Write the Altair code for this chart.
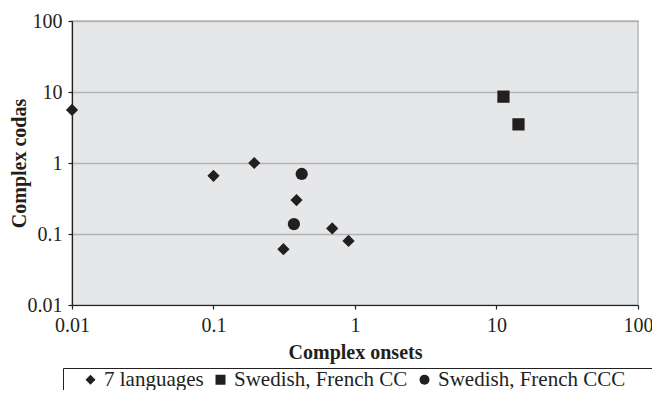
import altair as alt
import pandas as pd

# --- data ---
series_names = ["7 languages", "Swedish, French CC", "Swedish, French CCC"]

lang7_onsets = [0.01, 0.1, 0.194, 0.386, 0.312, 0.69, 0.90]
lang7_codas = [5.6, 0.66, 1.0, 0.30, 0.061, 0.12, 0.080]

cc_onsets = [11.2, 14.3]
cc_codas = [8.6, 3.5]

ccc_onsets = [0.42, 0.37]
ccc_codas = [0.70, 0.138]

tick_values = [0.01, 0.1, 1, 10, 100]

rows = []
for name, xs, ys in [
    (series_names[0], lang7_onsets, lang7_codas),
    (series_names[1], cc_onsets, cc_codas),
    (series_names[2], ccc_onsets, ccc_codas),
]:
    for xv, yv in zip(xs, ys):
        rows.append({"series": name, "onset": xv, "coda": yv})
df = pd.DataFrame(rows)

INK = "#231f20"
FONT = "Liberation Serif"

# an empty trailing legend slot gives the legend frame its right-hand margin
legend_domain = series_names + [" "]
legend_shapes = ["diamond", "square", "circle", "M0,0"]

chart = (
    alt.Chart(df)
    .mark_point(filled=True, opacity=1, color=INK, strokeWidth=0, size=150)
    .encode(
        x=alt.X(
            "onset:Q",
            scale=alt.Scale(type="log", domain=[0.01, 100], nice=False),
            axis=alt.Axis(
                values=tick_values,
                format="~g",
                title="Complex onsets",
                grid=False,
                labelFlush=False,
                labelPadding=6,
                titleBaseline="alphabetic",
                titleY=53,
            ),
        ),
        y=alt.Y(
            "coda:Q",
            scale=alt.Scale(type="log", domain=[0.01, 100], nice=False),
            axis=alt.Axis(
                values=tick_values,
                format="~g",
                title="Complex codas",
                grid=True,
                gridColor="#b3b4b6",
                gridWidth=1.5,
                labelPadding=6,
                titleBaseline="alphabetic",
                titleAngle=270,
                titleX=-47,
                titleY=142,
            ),
        ),
        shape=alt.Shape(
            "series:N",
            scale=alt.Scale(domain=legend_domain, range=legend_shapes),
            legend=alt.Legend(
                orient="none",
                legendX=-9,
                legendY=347,
                direction="horizontal",
                strokeColor=INK,
                padding=1,
                title="\u00a0",
                titleOrient="left",
                titleFontSize=1,
                titlePadding=16,
                labelFont=FONT,
                labelFontSize=21,
                labelColor=INK,
                labelOffset=3,
                labelLimit=0,
                columnPadding=6,
                symbolSize=100,
                symbolFillColor=INK,
                symbolStrokeWidth=0,
            ),
        ),
    )
    .properties(
        width=566,
        height=284,
        autosize=alt.AutoSizeParams(type="none"),
        padding={"left": 64, "top": 13, "right": 14, "bottom": 85},
    )
    .configure_view(fill="#e6e7e8", stroke="#b8b9bb", strokeWidth=1.5)
    .configure_axis(
        domainColor=INK,
        domainWidth=1.2,
        tickColor=INK,
        tickSize=4,
        tickWidth=1.2,
        labelFont=FONT,
        labelFontSize=20,
        labelColor=INK,
        titleFont=FONT,
        titleFontSize=20,
        titleFontWeight="bold",
        titleColor=INK,
    )
    .configure_legend(labelFont=FONT, titleFont=FONT)
)

chart.save("out.html", embed_options={"renderer": "svg", "actions": False})
